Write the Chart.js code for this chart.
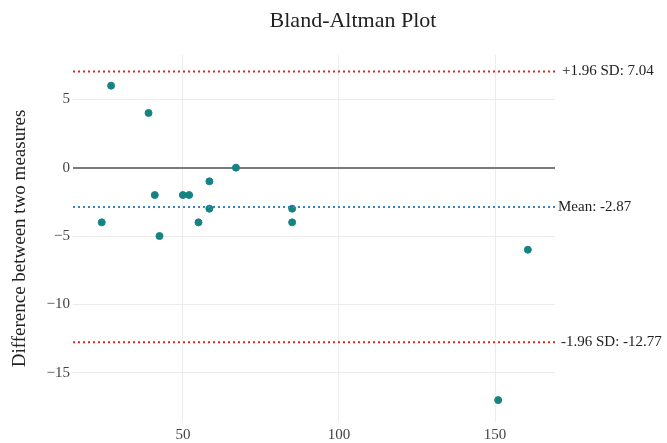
<!DOCTYPE html>
<html>
<head>
<meta charset="utf-8">
<title>Bland-Altman Plot</title>
<script src="https://cdn.jsdelivr.net/npm/chart.js@4"></script>
<style>
  html, body { margin: 0; padding: 0; background: #fff; }
  canvas { display: block; }
</style>
</head>
<body>
<canvas id="baChart" width="667" height="443"></canvas>
<script>
// mean of the two measures (x) and their difference (y)
const meanValues = [27, 39, 24, 41, 42.5, 50, 52, 55, 58.5, 58.5, 67, 85, 85, 160.5, 151];
const diffValues = [6, 4, -4, -2, -5, -2, -2, -4, -1, -3, 0, -3, -4, -6, -17];

// limits of agreement
const meanDiff = -2.87;
const upperLoA = 7.04;
const lowerLoA = -12.77;

const X_RANGE = [14.8, 169.2];
const Y_RANGE = [-18.6, 8.24];
const X_TICKS = [50, 100, 150];
const Y_TICKS = [-15, -10, -5, 0, 5];

const SERIF = '"Liberation Serif", "Times New Roman", serif';

const points = meanValues.map((x, i) => ({ x, y: diffValues[i] }));
const hLine = y => [{ x: X_RANGE[0], y }, { x: X_RANGE[1], y }];

const refLines = [
  { y: upperLoA, text: '+1.96 SD: ' + upperLoA.toFixed(2), dx: 7 },
  { y: meanDiff, text: 'Mean: ' + meanDiff.toFixed(2), dx: 3 },
  { y: lowerLoA, text: '-1.96 SD: ' + lowerLoA.toFixed(2), dx: 6 }
];

// title + labels at the right end of the reference lines
const textPlugin = {
  id: 'baText',
  afterDraw(chart) {
    const { ctx, chartArea, scales } = chart;
    ctx.save();
    ctx.fillStyle = '#222';
    ctx.font = '22px ' + SERIF;
    ctx.textAlign = 'center';
    ctx.textBaseline = 'middle';
    ctx.fillText('Bland-Altman Plot', 353, 21);

    ctx.font = '15px ' + SERIF;
    ctx.textAlign = 'left';
    refLines.forEach(r => {
      ctx.fillText(r.text, chartArea.right + r.dx, scales.y.getPixelForValue(r.y));
    });
    ctx.restore();
  }
};

new Chart(document.getElementById('baChart'), {
  type: 'scatter',
  data: {
    datasets: [
      {
        type: 'line',
        data: hLine(upperLoA),
        borderColor: '#d62728',
        borderWidth: 2,
        borderDash: [2, 3],
        pointRadius: 0
      },
      {
        type: 'line',
        data: hLine(meanDiff),
        borderColor: '#3b82c4',
        borderWidth: 2,
        borderDash: [2, 3],
        pointRadius: 0
      },
      {
        type: 'line',
        data: hLine(lowerLoA),
        borderColor: '#d62728',
        borderWidth: 2,
        borderDash: [2, 3],
        pointRadius: 0
      },
      {
        data: points,
        backgroundColor: '#168383',
        borderColor: '#168383',
        pointRadius: 3.5,
        pointHoverRadius: 3.5
      }
    ]
  },
  options: {
    responsive: false,
    animation: false,
    devicePixelRatio: 1,
    layout: { padding: { top: 55, right: 112, left: 0, bottom: 0 } },
    plugins: {
      legend: { display: false },
      title: { display: false },
      tooltip: { enabled: false }
    },
    scales: {
      x: {
        type: 'linear',
        min: X_RANGE[0],
        max: X_RANGE[1],
        border: { display: false },
        grid: { color: '#ececec', lineWidth: 1, drawTicks: false },
        afterBuildTicks: s => { s.ticks = X_TICKS.map(v => ({ value: v })); },
        afterFit: s => { s.height = 21; },
        ticks: {
          padding: 4,
          color: '#444',
          font: { family: SERIF, size: 15 }
        }
      },
      y: {
        min: Y_RANGE[0],
        max: Y_RANGE[1],
        border: { display: false },
        grid: {
          drawTicks: false,
          color: c => c.tick && c.tick.value === 0 ? '#7a7a7a' : '#ececec',
          lineWidth: c => c.tick && c.tick.value === 0 ? 2 : 1
        },
        afterBuildTicks: s => { s.ticks = Y_TICKS.map(v => ({ value: v })); },
        afterFit: s => { s.width = 73; },
        ticks: {
          padding: 3,
          color: '#444',
          font: { family: SERIF, size: 15 },
          callback: v => String(v).replace('-', '\u2212')
        },
        title: {
          display: true,
          text: 'Difference between two measures',
          color: '#222',
          padding: { top: 9, bottom: 0 },
          font: { family: SERIF, size: 19 }
        }
      }
    }
  },
  plugins: [textPlugin]
});
</script>
</body>
</html>
